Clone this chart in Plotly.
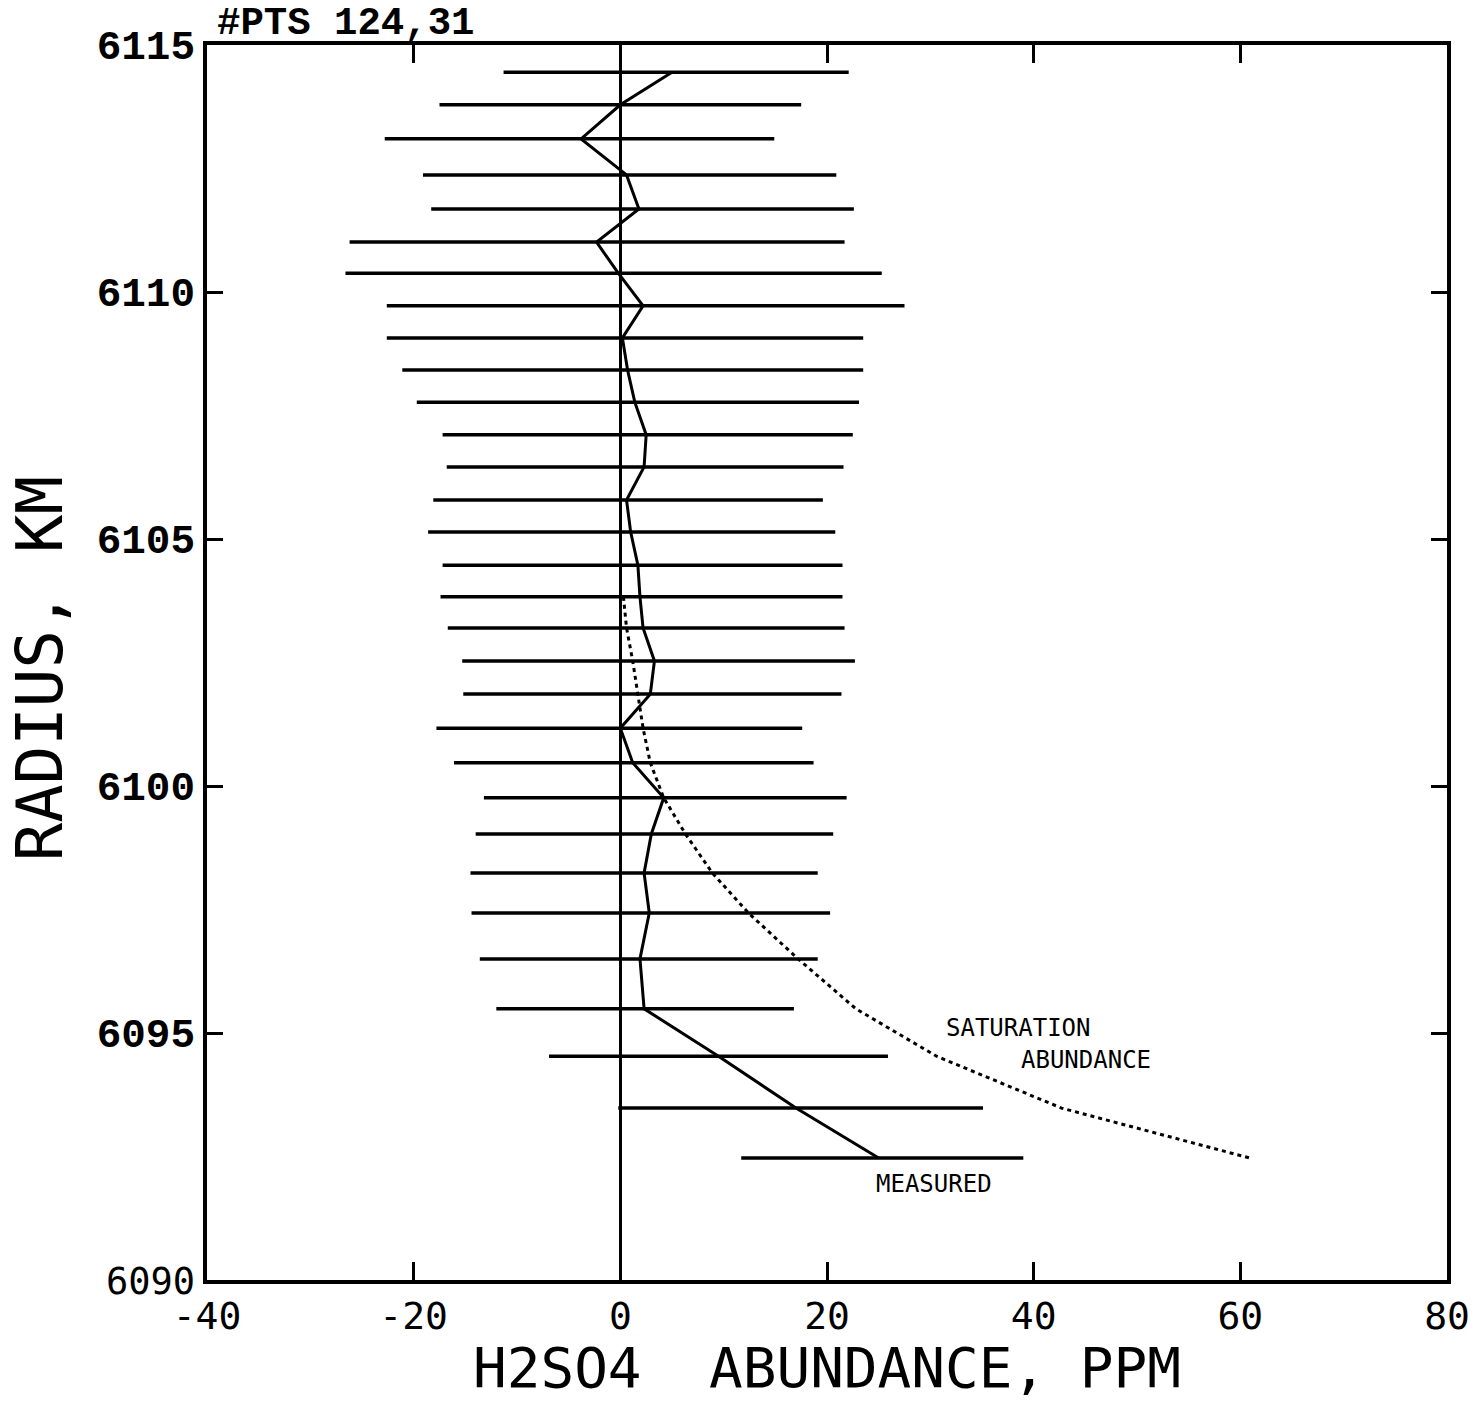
import plotly.graph_objects as go

# Retrieved H2SO4 profile: 31 levels, radius in km
radius = [6114.45, 6113.79, 6113.10, 6112.37, 6111.68, 6111.01, 6110.38, 6109.72,
          6109.07, 6108.42, 6107.77, 6107.11, 6106.46, 6105.79, 6105.14, 6104.47,
          6103.83, 6103.20, 6102.53, 6101.86, 6101.17, 6100.47, 6099.76, 6099.03,
          6098.24, 6097.43, 6096.50, 6095.49, 6094.53, 6093.48, 6092.47]

# Measured abundance (ppm) and the low/high ends of each uncertainty bar
measured = [5.0, 0.0, -3.8, 0.6, 1.8, -2.3, -0.2, 2.2, 0.2, 0.7, 1.4, 2.5, 2.3, 0.6,
            1.0, 1.7, 1.9, 2.2, 3.3, 2.9, 0.0, 1.2, 4.2, 3.0, 2.3, 2.8, 1.9, 2.3,
            9.5, 17.0, 25.0]
err_low = [-11.3, -17.5, -22.8, -19.1, -18.3, -26.2, -26.6, -22.6, -22.6, -21.1,
           -19.7, -17.2, -16.8, -18.1, -18.6, -17.2, -17.4, -16.7, -15.3, -15.2,
           -17.8, -16.1, -13.2, -14.0, -14.5, -14.4, -13.6, -12.0, -6.9, -0.2, 11.7]
err_high = [22.1, 17.5, 14.9, 20.9, 22.6, 21.7, 25.3, 27.5, 23.5, 23.5, 23.1, 22.5,
            21.6, 19.6, 20.8, 21.5, 21.5, 21.7, 22.7, 21.4, 17.6, 18.7, 21.9, 20.6,
            19.1, 20.3, 19.1, 16.8, 25.9, 35.1, 39.0]

# Saturation abundance (ppm) over the lower levels
sat_radius = radius[16:]
saturation = [0.3, 0.6, 1.2, 1.7, 2.2, 2.9, 4.2, 6.3, 8.9, 12.4, 17.2, 22.8,
              30.6, 42.7, 60.9]

x_ticks = [-40, -20, 0, 20, 40, 60, 80]
y_ticks = [6090, 6095, 6100, 6105, 6110, 6115]

MONO = "DejaVu Sans Mono"
SERIF_MONO = "Liberation Mono, Courier New, monospace"

fig = go.Figure()

fig.add_trace(go.Scatter(
    x=measured, y=radius, mode="lines",
    line=dict(color="black", width=3),
    error_x=dict(type="data", symmetric=False,
                 array=[h - m for h, m in zip(err_high, measured)],
                 arrayminus=[m - l for l, m in zip(err_low, measured)],
                 width=0, thickness=3.5, color="black"),
    showlegend=False, hoverinfo="skip",
))

fig.add_trace(go.Scatter(
    x=saturation, y=sat_radius, mode="lines",
    line=dict(color="black", width=3, dash="4px,4px"),
    showlegend=False, hoverinfo="skip",
))

# bottom label in the plain plotter font, the rest in bold typewriter
y_text = [f"<span style='font-family:{MONO};font-weight:normal;font-size:37px'>{v}</span>"
          if v == 6090 else f"<b>{v}</b>" for v in y_ticks]

fig.update_layout(
    width=1475, height=1401,
    margin=dict(l=207, r=28, t=45, b=121),
    paper_bgcolor="white", plot_bgcolor="white",
    xaxis=dict(
        range=[-40, 80], tickvals=x_ticks, ticktext=[str(v) for v in x_ticks],
        ticks="inside", ticklen=18, tickwidth=3, tickcolor="black",
        showline=True, linewidth=3.5, linecolor="black", mirror="ticks",
        showgrid=False, zeroline=True, zerolinecolor="black", zerolinewidth=3,
        automargin=False, ticklabelstandoff=0,
        tickfont=dict(family=MONO, size=38, color="black"),
    ),
    yaxis=dict(
        range=[6090, 6115], tickvals=y_ticks, ticktext=y_text,
        ticks="inside", ticklen=16, tickwidth=3, tickcolor="black",
        showline=True, linewidth=3.5, linecolor="black", mirror="ticks",
        showgrid=False, zeroline=False, automargin=False,
        tickfont=dict(family=SERIF_MONO, size=41, color="black"),
        ticklabelstandoff=0,
    ),
    annotations=[
        # axis titles
        dict(text="H2SO4\u00a0\u00a0ABUNDANCE,\u00a0PPM", xref="paper", yref="paper",
             x=0.5, y=-0.0712, xanchor="center", yanchor="middle", showarrow=False,
             borderpad=0, font=dict(family=MONO, size=56, color="black")),
        dict(text="RADIUS,\u00a0KM", xref="paper", yref="paper", textangle=-90,
             x=-0.135, y=0.495, xanchor="center", yanchor="middle", showarrow=False,
             font=dict(family=MONO, size=64, color="black")),
        # point count above the frame
        dict(text="<b>#PTS 124,31</b>", xref="paper", yref="paper",
             x=0.0, y=1.0, xanchor="left", yanchor="bottom", yshift=-3, xshift=8,
             showarrow=False, font=dict(family=SERIF_MONO, size=39, color="black")),
        # curve labels
        dict(text="SATURATION", x=38.5, y=6095.1, showarrow=False,
             font=dict(family=MONO, size=24, color="black")),
        dict(text="ABUNDANCE", x=45.1, y=6094.45, showarrow=False,
             font=dict(family=MONO, size=24, color="black")),
        dict(text="MEASURED", x=30.4, y=6091.95, showarrow=False,
             font=dict(family=MONO, size=24, color="black")),
    ],
)

fig.write_html("out.html", config={"displayModeBar": False})
